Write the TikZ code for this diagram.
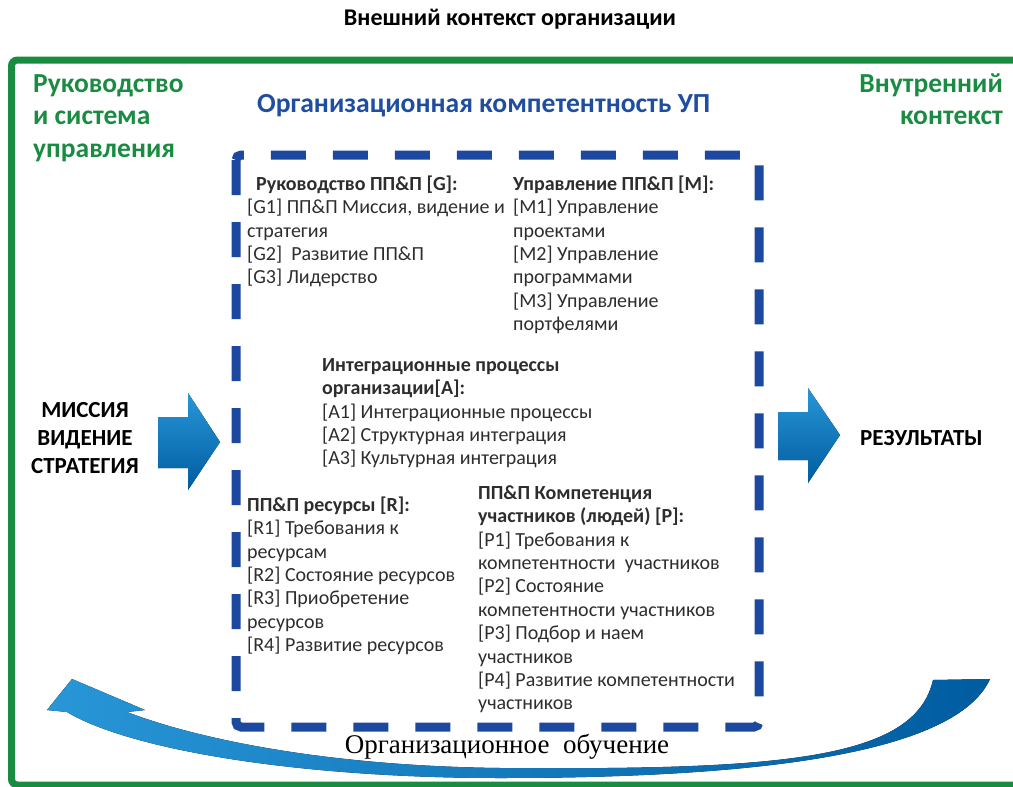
\documentclass[tikz,border=0pt]{standalone}
\usepackage{fontspec}
\setmainfont{Carlito}
\newfontfamily\serifru{Liberation Serif}
\definecolor{framegreen}{RGB}{26,140,66}
\definecolor{dashblue}{RGB}{28,72,160}
\definecolor{headblue}{RGB}{31,78,160}
\definecolor{textgray}{RGB}{45,45,45}
\definecolor{arrowdark}{RGB}{0,92,160}
\definecolor{arrowlight}{RGB}{40,150,215}
\newcommand{\firstline}[1]{\rule{0pt}{#1}}
\tikzset{
  block/.style={anchor=north west, align=left, inner sep=0pt, text=textgray, font=\fontsize{20}{23.4}\selectfont},
  sidetext/.style={inner sep=0pt, align=center, font=\bfseries\fontsize{23}{28}\selectfont},
  greentext/.style={inner sep=0pt, text=framegreen, font=\bfseries\fontsize{27.5}{32.5}\selectfont}
}
\begin{document}
\begin{tikzpicture}[x=1pt,y=-1pt]
\useasboundingbox (0,0) rectangle (1013,787);
% frame and titles
\draw[framegreen, line width=7pt, rounded corners=6pt] (1013,60) -- (11.5,60) -- (11.5,785) -- (1013,785);
\node[anchor=base, inner sep=0pt, font=\bfseries\fontsize{24}{28}\selectfont] (outer) at (510,25) {Внешний контекст организации};
\node[anchor=base west, inner sep=0pt, text=headblue, font=\bfseries\fontsize{27.6}{32}\selectfont] (competence) at (257,112) {Организационная компетентность УП};
\node[greentext, anchor=north west, align=left] (governance) at (33,70) {\firstline{22pt}Руководство\\и система\\управления};
\node[greentext, anchor=north east, align=right] (inner) at (1003,70) {\firstline{22pt}Внутренний\\контекст};
% dashed box
\draw[dashblue, line width=9pt, dash pattern=on 35pt off 27pt, rounded corners=5pt] (236,155) -- (236,727) -- (759,727) -- (759,155) -- cycle;
\node[block] (govblock) at (247,174) {\firstline{16pt}\hspace*{9pt}\textbf{Руководство ПП\&П [G]:}\\{}[G1] ПП\&П Миссия, видение и\\стратегия\\{}[G2]~ Развитие ПП\&П\\{}[G3] Лидерство};
\node[block] (mgmtblock) at (513,174) {\firstline{16pt}\textbf{Управление ПП\&П [M]:}\\{}[M1] Управление\\проектами\\{}[M2] Управление\\программами\\{}[M3] Управление\\портфелями};
\node[block] (intblock) at (322,355) {\firstline{16pt}\textbf{Интеграционные процессы}\\\textbf{организации[A]:}\\{}[A1] Интеграционные процессы\\{}[A2] Структурная интеграция\\{}[A3] Культурная интеграция};
\node[block] (resblock) at (247,495) {\firstline{16pt}\textbf{ПП\&П ресурсы [R]:}\\{}[R1] Требования к\\ресурсам\\{}[R2] Состояние ресурсов\\{}[R3] Приобретение\\ресурсов\\{}[R4] Развитие ресурсов};
\node[block] (peopleblock) at (478,483) {\firstline{16pt}\textbf{ПП\&П Компетенция}\\\textbf{участников (людей) [P]:}\\{}[P1] Требования к\\компетентности~ участников\\{}[P2] Состояние\\компетентности участников\\{}[P3] Подбор и наем\\участников\\{}[P4] Развитие компетентности\\участников};
% in and out
\node[sidetext, anchor=north] (mission) at (85,399) {\firstline{18pt}МИССИЯ\\ВИДЕНИЕ\\СТРАТЕГИЯ};
\node[sidetext, anchor=base west] (results) at (860,445) {РЕЗУЛЬТАТЫ};
\fill[top color=arrowlight, bottom color=arrowdark] (158,417) -- (188,417) -- (188,393) -- (220,442) -- (188,490) -- (188,468) -- (158,468) -- cycle;
\fill[top color=arrowlight, bottom color=arrowdark] (778,412) -- (808,412) -- (808,388) -- (840,435) -- (808,483) -- (808,460) -- (778,460) -- cycle;
% learning loop
\fill[left color=arrowlight, right color=arrowdark] (990,679) .. controls (960,745) and (800,778) .. (500,778) .. controls (300,778) and (130,750) .. (67,712) -- (47,710) -- (72,679) -- (145,710) -- (127,712) .. controls (200,740) and (330,766) .. (500,768) .. controls (780,770) and (915,760) .. (933,680) -- cycle;
\node[anchor=base, inner sep=0pt, font=\serifru\fontsize{27}{30}\selectfont] (learning) at (507,753) {Организационное~ обучение};
\end{tikzpicture}
\end{document}
